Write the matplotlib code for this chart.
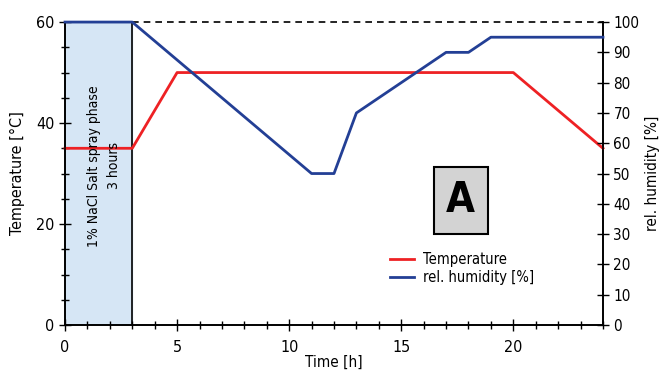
import matplotlib
matplotlib.use("Agg")
import matplotlib.pyplot as plt
from matplotlib.ticker import MultipleLocator

plt.rcParams["font.family"] = ["DejaVu Sans"]
plt.rcParams["font.stretch"] = "condensed"
plt.rcParams["font.size"] = 11

# data
time_temp = [0, 3, 5, 20, 24]
temperature = [35, 35, 50, 50, 35]
time_hum = [0, 3, 11, 12, 13, 17, 18, 19, 24]
humidity = [100, 100, 50, 50, 70, 90, 90, 95, 95]
spray_end = 3

RED = "#ee2124"
BLUE = "#233f95"

fig = plt.figure(figsize=(6.6, 3.74), dpi=100)
ax = fig.add_axes([0.0985, 0.131, 0.8151, 0.81])
ax2 = ax.twinx()

ax.axvspan(0, spray_end, color="#d6e6f5", zorder=0)
ax.axvline(spray_end, color="black", lw=1.2, zorder=1)
ax.plot([spray_end, 24], [60, 60], color="black", ls=(0, (4, 3)), lw=1.2, clip_on=False)

l1, = ax.plot(time_temp, temperature, color=RED, lw=2, label="Temperature", zorder=3,
              clip_on=False)
l2, = ax2.plot(time_hum, humidity, color=BLUE, lw=2, label="rel. humidity [%]", zorder=3,
               clip_on=False)

ax.set_xlim(0, 24)
ax.set_ylim(0, 60)
ax2.set_ylim(0, 100)

ax.xaxis.set_major_locator(MultipleLocator(5))
ax.xaxis.set_minor_locator(MultipleLocator(1))
ax.yaxis.set_major_locator(MultipleLocator(20))
ax.yaxis.set_minor_locator(MultipleLocator(5))
ax2.yaxis.set_major_locator(MultipleLocator(10))

for a in (ax, ax2):
    a.spines["top"].set_visible(False)
    for s in a.spines.values():
        s.set_linewidth(1.2)
ax.tick_params(which="both", direction="inout", width=1.0, labelsize=11.5)
ax.tick_params(which="major", length=8)
ax.tick_params(which="minor", length=6)
ax.tick_params(axis="x", pad=7)
ax2.tick_params(which="both", direction="inout", width=1.0, length=8, labelsize=11)

ax.set_xlabel("Time [h]", fontsize=11, labelpad=0)
ax.set_ylabel("Temperature [°C]", fontsize=11.5, labelpad=8)
ax2.set_ylabel("rel. humidity [%]", fontsize=11, labelpad=4)

ax.text(1.74, 31.5, "1% NaCl Salt spray phase\n3 hours", rotation=90,
        ha="center", va="center", fontsize=10, linespacing=1.5)

ax.text(17.65, 24.7, "A", ha="center", va="center", fontsize=30, fontweight="bold",
        bbox=dict(boxstyle="square,pad=0.3", fc="#d3d3d3", ec="black", lw=1.5))

ax.legend(handles=[l1, l2], loc="upper left", bbox_to_anchor=(0.59, 0.265),
          frameon=False, handlelength=1.7, handletextpad=0.6, labelspacing=0.2,
          borderpad=0, fontsize=10.5)

fig.savefig("out.png", dpi=100)
